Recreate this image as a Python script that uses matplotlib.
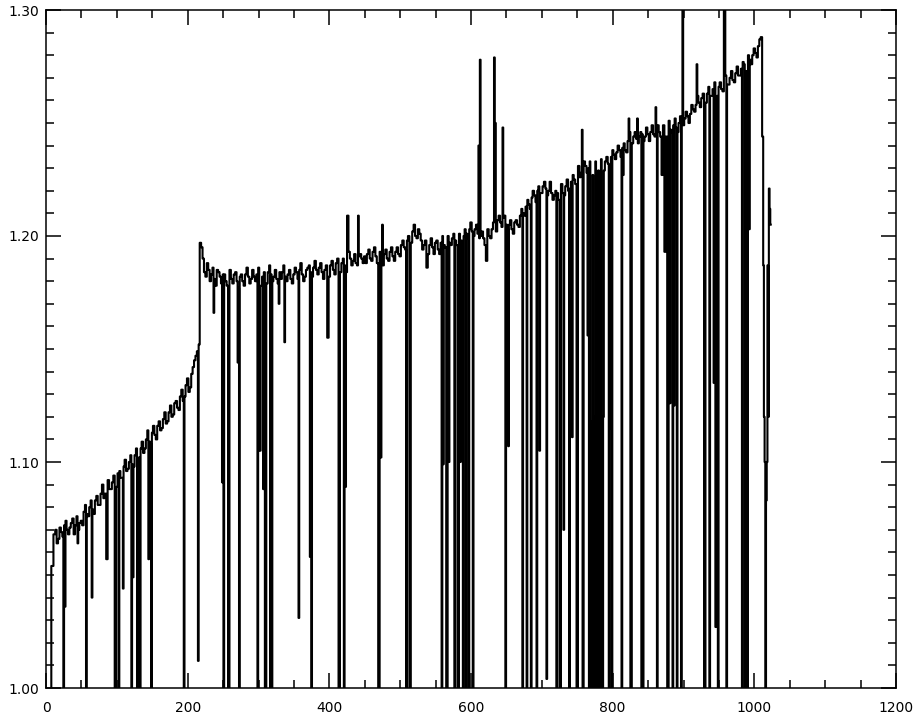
import numpy as np
import matplotlib
matplotlib.use("Agg")
import matplotlib.pyplot as plt
from matplotlib.ticker import MultipleLocator, FormatStrFormatter

# Trace samples on channels 12, 16, 20, ... 1008
samples_a = [
    1.068, 1.064, 1.071, 1.067, 1.074, 1.068, 1.073, 1.068, 1.076, 1.073,
    1.072, 1.081, 1.076, 1.083, 1.077, 1.085, 1.081, 1.090, 1.086, 1.092,
    1.088, 1.094, 1.089, 1.096, 1.093, 1.101, 1.097, 1.103, 1.098, 1.106,
    1.102, 1.109, 1.106, 1.114, 1.108, 1.116, 1.110, 1.118, 1.115, 1.122,
    1.118, 1.125, 1.121, 1.127, 1.123, 1.132, 1.129, 1.137, 1.133, 1.142,
    1.147, 1.152, 1.195, 1.184, 1.188, 1.180, 1.186, 1.178, 1.184, 1.179,
    1.183, 1.178, 1.185, 1.179, 1.184, 1.177, 1.183, 1.178, 1.186, 1.179,
    1.185, 1.180, 1.186, 1.178, 1.184, 1.179, 1.187, 1.180, 1.185, 1.179,
    1.181, 1.187, 1.180, 1.185, 1.179, 1.186, 1.181, 1.188, 1.180, 1.185,
    1.187, 1.182, 1.189, 1.183, 1.188, 1.181, 1.187, 1.182, 1.189, 1.183,
    1.190, 1.184, 1.190, 1.184, 1.193, 1.187, 1.192, 1.187, 1.192, 1.188,
    1.188, 1.194, 1.189, 1.195, 1.188, 1.193, 1.187, 1.194, 1.189, 1.195,
    1.189, 1.195, 1.191, 1.198, 1.194, 1.200, 1.197, 1.205, 1.199, 1.201,
    1.194, 1.198, 1.192, 1.199, 1.192, 1.198, 1.192, 1.200, 1.195, 1.200,
    1.196, 1.201, 1.196, 1.201, 1.196, 1.203, 1.199, 1.206, 1.200, 1.205,
    1.199, 1.202, 1.196, 1.203, 1.199, 1.206, 1.202, 1.209, 1.204, 1.209,
    1.203, 1.207, 1.201, 1.207, 1.204, 1.212, 1.209, 1.216, 1.212, 1.220,
    1.215, 1.222, 1.219, 1.224, 1.218, 1.224, 1.216, 1.220, 1.216, 1.223,
    1.218, 1.225, 1.221, 1.227, 1.223, 1.231, 1.228, 1.233, 1.228, 1.233,
    1.227, 1.233, 1.229, 1.234, 1.229, 1.235, 1.231, 1.238, 1.234, 1.240,
    1.235, 1.241, 1.237, 1.246, 1.241, 1.246, 1.241, 1.246, 1.242, 1.248,
    1.242, 1.249, 1.244, 1.249, 1.244, 1.249, 1.244, 1.251, 1.246, 1.252,
    1.246, 1.253, 1.249, 1.255, 1.250, 1.258, 1.255, 1.262, 1.257, 1.263,
    1.259, 1.266, 1.262, 1.268, 1.262, 1.268, 1.264, 1.271, 1.267, 1.273,
    1.268, 1.275, 1.271, 1.277, 1.273, 1.280, 1.276, 1.283, 1.279, 1.287,
]

# Trace samples on channels 14, 18, 22, ... 1006
samples_b = [
    1.070, 1.066, 1.069, 1.072, 1.070, 1.071, 1.075, 1.072, 1.070, 1.074,
    1.078, 1.077, 1.080, 1.079, 1.083, 1.081, 1.086, 1.084, 1.089, 1.088,
    1.091, 1.090, 1.095, 1.093, 1.098, 1.096, 1.100, 1.099, 1.103, 1.101,
    1.106, 1.104, 1.110, 1.109, 1.113, 1.112, 1.116, 1.114, 1.119, 1.117,
    1.122, 1.120, 1.126, 1.124, 1.129, 1.127, 1.134, 1.131, 1.139, 1.145,
    1.149, 1.197, 1.190, 1.182, 1.185, 1.183, 1.181, 1.185, 1.182, 1.183,
    1.180, 1.182, 1.181, 1.183, 1.180, 1.182, 1.180, 1.183, 1.182, 1.181,
    1.182, 1.183, 1.181, 1.182, 1.181, 1.184, 1.183, 1.182, 1.181, 1.184,
    1.184, 1.182, 1.183, 1.181, 1.183, 1.184, 1.185, 1.183, 1.182, 1.186,
    1.184, 1.186, 1.185, 1.186, 1.184, 1.185, 1.184, 1.187, 1.185, 1.188,
    1.186, 1.188, 1.187, 1.189, 1.190, 1.189, 1.188, 1.191, 1.190, 1.191,
    1.192, 1.190, 1.193, 1.191, 1.190, 1.191, 1.192, 1.190, 1.193, 1.191,
    1.193, 1.192, 1.196, 1.195, 1.198, 1.196, 1.202, 1.200, 1.203, 1.198,
    1.196, 1.194, 1.196, 1.195, 1.197, 1.194, 1.197, 1.196, 1.198, 1.197,
    1.199, 1.198, 1.199, 1.198, 1.200, 1.201, 1.203, 1.202, 1.203, 1.201,
    1.200, 1.199, 1.201, 1.200, 1.203, 1.204, 1.207, 1.206, 1.208, 1.205,
    1.205, 1.203, 1.206, 1.205, 1.209, 1.210, 1.213, 1.214, 1.217, 1.218,
    1.220, 1.219, 1.222, 1.221, 1.220, 1.219, 1.218, 1.219, 1.220, 1.219,
    1.222, 1.220, 1.224, 1.225, 1.228, 1.226, 1.230, 1.231, 1.230, 1.229,
    1.231, 1.230, 1.232, 1.231, 1.233, 1.232, 1.235, 1.236, 1.237, 1.238,
    1.239, 1.238, 1.242, 1.243, 1.244, 1.243, 1.244, 1.245, 1.244, 1.245,
    1.246, 1.245, 1.247, 1.246, 1.247, 1.246, 1.248, 1.247, 1.249, 1.248,
    1.250, 1.251, 1.252, 1.253, 1.254, 1.256, 1.258, 1.259, 1.261, 1.260,
    1.263, 1.262, 1.265, 1.264, 1.266, 1.265, 1.268, 1.267, 1.270, 1.269,
    1.272, 1.271, 1.274, 1.276, 1.277, 1.278, 1.280, 1.281, 1.284,
]

# Start of the record
lead_x = [6, 9]
lead_y = [0.95, 1.054]

# Dropouts and spikes (channel, value)
event_x = [
    25, 27, 45, 57, 65, 86, 98, 103, 109, 121, 123, 129, 133, 145, 149, 195, 215,
    237, 249, 251, 258, 271, 273, 299, 302, 307, 310, 317, 319, 329, 337, 357,
    373, 375, 398, 414, 421, 423, 426, 441, 470, 473, 475, 509, 514, 538,
    559, 561, 566, 569, 577, 582, 585, 589, 593, 597, 603, 611, 613, 622, 633,
    634, 645, 649, 653, 673, 679, 685, 693, 697, 707, 721, 726, 731, 739, 743,
    750, 757, 758, 765, 767, 769, 770, 771, 773, 774, 775, 777, 778, 779, 781,
    782, 783, 785, 786, 787, 795, 797, 799, 813, 815, 823, 826, 835, 841, 843,
    861, 863, 870, 874, 878, 881, 885, 887, 891, 897, 899, 919, 930, 937, 943,
    946, 949, 958, 961, 983, 987, 990, 993,
]
event_y = [
    0.95, 1.036, 1.064, 0.95, 1.040, 1.057, 0.95, 0.95, 1.044, 0.95, 1.049, 0.95, 0.95, 1.057, 0.95, 0.95, 1.012,
    1.166, 1.091, 0.95, 0.95, 1.144, 0.95, 0.95, 1.105, 1.088, 0.95, 0.95, 0.95, 1.170, 1.153, 1.031,
    1.058, 0.95, 1.155, 0.95, 0.95, 1.089, 1.209, 1.209, 0.95, 1.102, 1.205, 0.95, 0.95, 1.186,
    0.95, 1.099, 0.95, 1.100, 0.95, 0.95, 1.100, 0.95, 0.95, 0.95, 0.95, 1.240, 1.278, 1.189, 1.279,
    1.250, 1.248, 0.95, 1.107, 0.95, 0.95, 0.95, 0.95, 1.105, 1.004, 0.95, 0.95, 1.070, 0.95, 1.111,
    0.95, 1.247, 0.95, 1.156, 0.95, 1.118, 0.95, 1.115, 0.95, 1.120, 0.95, 1.112, 0.95, 1.116, 0.95,
    1.118, 0.95, 1.114, 0.95, 1.120, 0.95, 1.115, 0.95, 0.95, 1.227, 1.252, 0.95, 1.252, 0.95, 0.95,
    1.257, 0.95, 1.227, 1.193, 0.95, 1.126, 0.95, 1.125, 0.95, 0.95, 1.330, 1.276, 0.95, 0.95, 1.135,
    1.027, 0.95, 1.330, 0.95, 0.95, 0.95, 0.95, 1.203,
]

# End of the record
tail_x = [1010, 1012, 1013, 1014, 1015, 1016, 1017, 1018, 1019, 1020, 1021, 1022, 1023]
tail_y = [1.288, 1.244, 1.187, 1.120, 1.100, 0.95, 1.083, 1.100, 1.187, 1.120, 1.221, 1.212, 1.205]

# Assemble the full trace in channel order
x_a = 12 + 4 * np.arange(len(samples_a))
x_b = 14 + 4 * np.arange(len(samples_b))
trace = dict(zip(lead_x, lead_y))
trace.update(zip(x_a.tolist(), samples_a))
trace.update(zip(x_b.tolist(), samples_b))
trace.update(zip(event_x, event_y))
trace.update(zip(tail_x, tail_y))
xs = np.array(sorted(trace))
ys = np.array([trace[k] for k in xs])

fig = plt.figure(figsize=(9.13, 7.17), dpi=100)
ax = fig.add_axes([46 / 913, 29 / 717, 850 / 913, 678 / 717])

ax.plot(xs, ys, color="black", lw=1.5, drawstyle="steps-mid")

ax.set_xlim(0, 1200)
ax.set_ylim(1.00, 1.30)

ax.xaxis.set_major_locator(MultipleLocator(200))
ax.xaxis.set_minor_locator(MultipleLocator(50))
ax.yaxis.set_major_locator(MultipleLocator(0.10))
ax.yaxis.set_minor_locator(MultipleLocator(0.01))
ax.yaxis.set_major_formatter(FormatStrFormatter("%.2f"))

ax.tick_params(which="both", direction="in", top=True, right=True, width=1.1, color="black")
ax.tick_params(which="major", length=11)
ax.tick_params(which="minor", length=6)
ax.tick_params(axis="x", which="major", pad=9, labelsize=10)
ax.tick_params(axis="y", which="major", pad=5, labelsize=10)

for sp in ax.spines.values():
    sp.set_linewidth(1.1)

fig.savefig("out.png", dpi=100)
